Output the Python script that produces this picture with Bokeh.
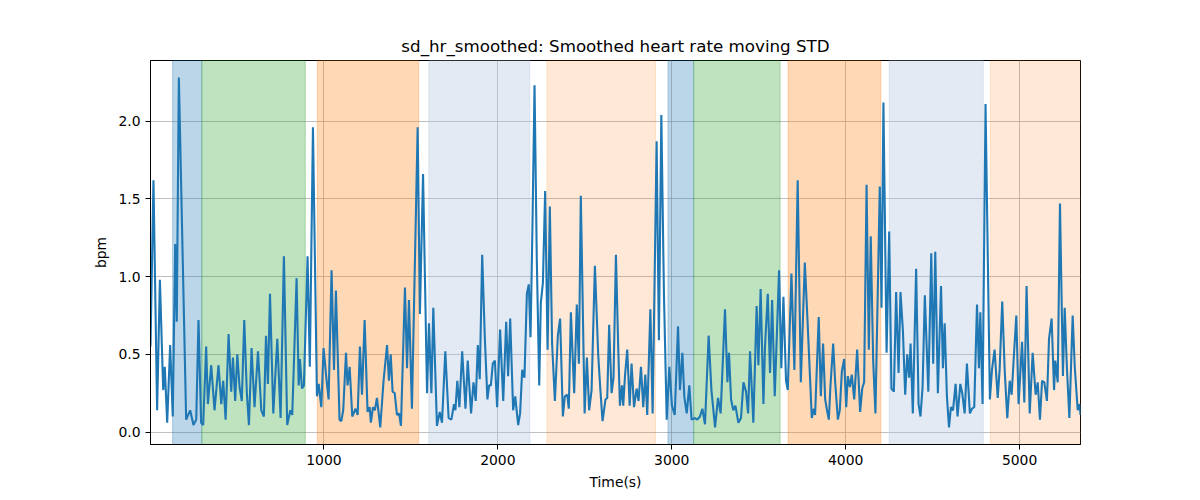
from bokeh.embed import file_html
from bokeh.models import FixedTicker, NumeralTickFormatter, Range1d
from bokeh.plotting import figure
from bokeh.resources import INLINE

# smoothed moving STD of heart rate
time_s = [
    3, 20, 41, 57, 76, 85, 99, 116, 131, 145,
    154, 166, 208, 231, 250, 266, 279, 294, 306, 323,
    333, 352, 371, 394, 410, 421, 435, 452, 467, 477,
    490, 502, 515, 528, 542, 557, 569, 584, 601, 621,
    640, 655, 667, 678, 690, 709, 732, 751, 770, 789,
    807, 818, 843, 855, 862, 874, 885, 906, 919, 937,
    960, 970, 985, 998, 1013, 1027, 1044, 1058, 1069, 1090,
    1100, 1111, 1127, 1136, 1148, 1163, 1182, 1194, 1207, 1219,
    1234, 1251, 1263, 1270, 1282, 1293, 1305, 1324, 1343, 1363,
    1374, 1384, 1395, 1407, 1420, 1432, 1443, 1466, 1478, 1489,
    1506, 1539, 1552, 1570, 1593, 1604, 1618, 1629, 1650, 1666,
    1679, 1698, 1717, 1733, 1748, 1756, 1767, 1779, 1795, 1814,
    1827, 1846, 1860, 1873, 1885, 1896, 1910, 1925, 1940, 1950,
    1960, 1971, 1983, 1996, 2013, 2031, 2048, 2059, 2071, 2088,
    2100, 2117, 2128, 2140, 2153, 2167, 2178, 2188, 2199, 2211,
    2224, 2238, 2247, 2259, 2272, 2286, 2299, 2312, 2328, 2345,
    2358, 2374, 2385, 2399, 2408, 2420, 2439, 2454, 2466, 2477,
    2499, 2512, 2525, 2539, 2558, 2577, 2589, 2602, 2619, 2629,
    2640, 2654, 2665, 2679, 2692, 2702, 2714, 2721, 2731, 2744,
    2758, 2769, 2783, 2798, 2809, 2823, 2836, 2848, 2859, 2877,
    2890, 2913, 2926, 2940, 2955, 2971, 2986, 3001, 3017, 3036,
    3047, 3061, 3072, 3086, 3101, 3114, 3134, 3147, 3162, 3176,
    3191, 3212, 3228, 3249, 3266, 3281, 3306, 3320, 3329, 3341,
    3354, 3366, 3383, 3398, 3412, 3427, 3439, 3450, 3469, 3488,
    3498, 3511, 3527, 3536, 3552, 3565, 3577, 3592, 3617, 3630,
    3642, 3657, 3667, 3688, 3705, 3724, 3742, 3765, 3782, 3805,
    3817, 3824, 3845, 3857, 3870, 3882, 3891, 3903, 3912, 3928,
    3939, 3955, 3966, 3978, 3991, 4003, 4012, 4024, 4035, 4049,
    4066, 4083, 4095, 4106, 4120, 4133, 4144, 4158, 4171, 4196,
    4206, 4217, 4235, 4250, 4263, 4277, 4290, 4304, 4315, 4329,
    4342, 4354, 4365, 4373, 4386, 4405, 4419, 4430, 4442, 4455,
    4475, 4492, 4503, 4515, 4530, 4548, 4559, 4569, 4582, 4594,
    4605, 4617, 4632, 4643, 4659, 4670, 4684, 4697, 4714, 4726,
    4739, 4755, 4766, 4774, 4787, 4804, 4829, 4841, 4856, 4874,
    4885, 4900, 4914, 4929, 4943, 4954, 4968, 4981, 4994, 5014,
    5027, 5040, 5058, 5075, 5092, 5104, 5117, 5129, 5142, 5157,
    5169, 5184, 5198, 5205, 5219, 5232, 5249, 5259, 5272, 5286,
    5305, 5317, 5334, 5345, 5350,
]
sd_bpm = [
    0.55, 1.62, 0.14, 0.98, 0.27, 0.42, 0.06, 0.56, 0.10, 1.21,
    0.71, 2.28, 0.08, 0.14, 0.045, 0.08, 0.72, 0.06, 0.045, 0.55,
    0.18, 0.43, 0.14, 0.43, 0.18, 0.33, 0.08, 0.63, 0.26, 0.48,
    0.20, 0.50, 0.29, 0.20, 0.72, 0.25, 0.045, 0.54, 0.16, 0.52,
    0.14, 0.10, 0.62, 0.31, 0.89, 0.12, 0.60, 0.09, 1.13, 0.045,
    0.14, 0.11, 0.99, 0.30, 0.47, 0.28, 0.30, 1.13, 0.42, 1.96,
    0.23, 0.31, 0.16, 0.54, 0.36, 0.21, 1.04, 0.40, 0.91, 0.08,
    0.07, 0.14, 0.51, 0.30, 0.42, 0.10, 0.15, 0.11, 0.55, 0.24,
    0.72, 0.13, 0.16, 0.06, 0.16, 0.14, 0.22, 0.03, 0.33, 0.56,
    0.33, 0.50, 0.26, 0.25, 0.11, 0.12, 0.04, 0.93, 0.41, 0.85,
    0.15, 1.96, 0.76, 1.66, 0.25, 0.70, 0.25, 0.80, 0.04, 0.13,
    0.06, 0.52, 0.09, 0.08, 0.18, 0.14, 0.33, 0.16, 0.52, 0.15,
    0.46, 0.12, 0.32, 0.20, 0.56, 0.34, 1.14, 0.61, 0.21, 0.30,
    0.30, 0.44, 0.46, 0.16, 0.66, 0.20, 0.71, 0.36, 0.73, 0.14,
    0.23, 0.045, 0.12, 0.40, 0.35, 0.89, 0.95, 0.61, 1.32, 2.23,
    1.11, 0.30, 0.83, 0.96, 1.55, 0.53, 1.45, 0.57, 0.20, 0.62,
    0.73, 0.10, 0.23, 0.24, 0.15, 0.77, 0.25, 0.82, 0.44, 1.52,
    0.12, 0.48, 0.14, 0.27, 1.07, 0.50, 0.28, 0.07, 0.21, 0.22,
    0.69, 0.25, 0.35, 1.14, 0.55, 0.17, 0.30, 0.17, 0.36, 0.53,
    0.17, 0.44, 0.16, 0.28, 0.20, 0.42, 0.16, 0.37, 0.11, 0.79,
    0.12, 1.87, 0.59, 2.04, 0.89, 0.08, 0.42, 0.17, 0.11, 0.68,
    0.27, 0.51, 0.23, 0.12, 0.30, 0.08, 0.09, 0.08, 0.10, 0.15,
    0.05, 0.62, 0.27, 0.03, 0.22, 0.12, 0.79, 0.32, 0.51, 0.21,
    0.14, 0.17, 0.06, 0.09, 0.32, 0.26, 0.12, 0.52, 0.06, 0.81,
    0.43, 0.92, 0.18, 0.55, 0.89, 0.38, 0.85, 0.23, 1.04, 0.41,
    0.87, 0.33, 0.27, 1.02, 0.40, 1.62, 0.32, 1.09, 0.68, 0.09,
    0.15, 0.11, 0.74, 0.23, 0.57, 0.21, 0.15, 0.08, 0.29, 0.57,
    0.33, 0.08, 0.14, 0.39, 0.47, 0.16, 0.36, 0.29, 0.37, 0.21,
    0.53, 0.13, 0.28, 0.32, 1.59, 0.53, 1.26, 0.46, 0.12, 1.58,
    0.80, 2.12, 0.51, 1.29, 0.28, 0.26, 0.90, 0.38, 0.90, 0.65,
    0.24, 0.50, 0.35, 0.57, 0.12, 1.05, 0.18, 0.10, 0.29, 0.88,
    0.26, 1.15, 0.44, 1.16, 0.25, 0.94, 0.41, 0.70, 0.23, 0.03,
    0.16, 0.14, 0.31, 0.10, 0.31, 0.25, 0.12, 0.44, 0.12, 0.15,
    0.16, 0.82, 0.41, 0.77, 0.18, 2.11, 0.21, 0.40, 0.53, 0.22,
    0.40, 0.84, 0.40, 0.09, 0.33, 0.24, 0.51, 0.75, 0.18, 0.58,
    0.19, 0.94, 0.12, 0.51, 0.24, 0.32, 0.08, 0.33, 0.32, 0.20,
    0.60, 0.73, 0.27, 0.46, 0.32, 1.47, 0.36, 0.80, 0.41, 0.09,
    0.75, 0.42, 0.14, 0.18, 0.11,
]

# shaded phases
span_start = [130, 298, 962, 1603, 2282, 2978, 3126, 3669, 4250, 4832]
span_end = [298, 893, 1545, 2184, 2907, 3126, 3623, 4202, 4791, 5350]
span_color = ["#1f77b4", "#2ca02c", "#ff7f0e", "#b0c4de", "#ff7f0e",
              "#1f77b4", "#2ca02c", "#ff7f0e", "#b0c4de", "#ff7f0e"]
span_alpha = [0.3, 0.3, 0.3, 0.35, 0.17, 0.3, 0.3, 0.3, 0.35, 0.17]

x_ticks = [1000, 2000, 3000, 4000, 5000]
y_ticks = [0.0, 0.5, 1.0, 1.5, 2.0]
x_lo, x_hi = 3, 5350
y_lo, y_hi = -0.08, 2.39

font = "DejaVu Sans"

p = figure(width=1192, height=492, output_backend="svg", toolbar_location=None,
           x_range=Range1d(x_lo, x_hi), y_range=Range1d(y_lo, y_hi),
           title="sd_hr_smoothed: Smoothed heart rate moving STD",
           x_axis_label="Time(s)", y_axis_label="bpm")
p.min_border_left = 150
p.min_border_right = 112
p.min_border_top = 60
p.min_border_bottom = 47
p.outline_line_color = "black"
p.outline_line_width = 1
p.background_fill_color = "white"

p.title.align = "center"
p.title.text_font = font
p.title.text_font_size = "16.7px"
p.title.text_font_style = "normal"
p.title.text_color = "black"

p.quad(left=span_start, right=span_end, bottom=y_lo, top=y_hi,
       fill_color=span_color, fill_alpha=span_alpha,
       line_color=span_color, line_alpha=span_alpha, line_width=1)

p.line(time_s, sd_bpm, line_color="#1f77b4", line_width=2.1)

p.xaxis.ticker = FixedTicker(ticks=x_ticks)
p.yaxis.ticker = FixedTicker(ticks=y_ticks)
p.yaxis.formatter = NumeralTickFormatter(format="0.0")

for ax in (p.xaxis, p.yaxis):
    ax.axis_line_color = "black"
    ax.major_tick_line_color = "black"
    ax.major_tick_out = 5
    ax.major_tick_in = 0
    ax.minor_tick_line_color = None
    ax.major_label_text_font = font
    ax.major_label_text_font_size = "13.9px"
    ax.major_label_text_color = "black"
    ax.major_label_standoff = 5
    ax.axis_label_text_font = font
    ax.axis_label_text_font_size = "13.9px"
    ax.axis_label_text_font_style = "normal"
    ax.axis_label_text_color = "black"
    ax.axis_label_standoff = 6

for g in (p.xgrid, p.ygrid):
    g.grid_line_color = "#b0b0b0"
    g.grid_line_width = 0.8

p.xgrid.ticker = FixedTicker(ticks=x_ticks)
p.ygrid.ticker = FixedTicker(ticks=y_ticks)

open("out.html", "w").write(file_html(p, INLINE))
